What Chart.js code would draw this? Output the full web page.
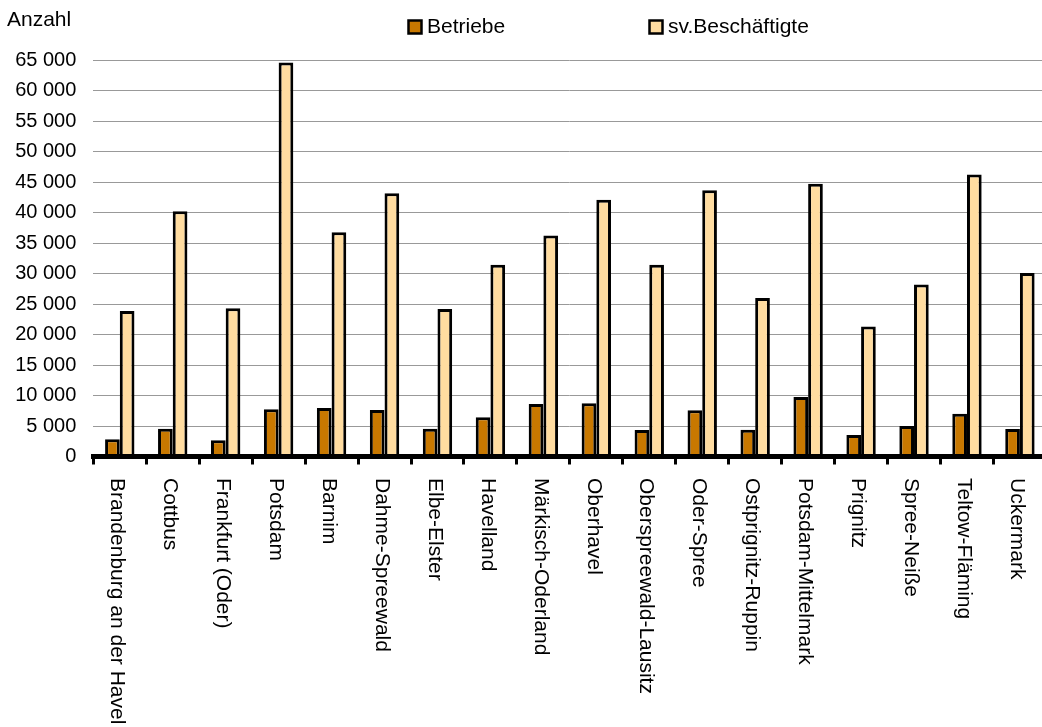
<!DOCTYPE html>
<html lang="de">
<head>
<meta charset="utf-8">
<title>Betriebe und sv.Beschäftigte</title>
<script src="https://cdn.jsdelivr.net/npm/chart.js@4/dist/chart.umd.min.js"></script>
<style>
    html, body { margin: 0; padding: 0; background: #fff; overflow: hidden; }
    canvas { display: block; }
</style>
</head>
<body>
<canvas id="chart" width="1060" height="727"></canvas>
<script>
    "use strict";

    // Data
    const categories = [
        "Brandenburg an der Havel", "Cottbus", "Frankfurt (Oder)", "Potsdam", "Barnim",
        "Dahme-Spreewald", "Elbe-Elster", "Havelland", "Märkisch-Oderland", "Oberhavel",
        "Oberspreewald-Lausitz", "Oder-Spree", "Ostprignitz-Ruppin", "Potsdam-Mittelmark",
        "Prignitz", "Spree-Neiße", "Teltow-Fläming", "Uckermark"
    ];
    const betriebe = [2820, 4560, 2660, 7740, 7950, 7620, 4560, 6430, 8600, 8720, 4340, 7570, 4390, 9750, 3520, 5000, 7020, 4510];
    const beschaeftigte = [23850, 40200, 24300, 64600, 36750, 43150, 24200, 31450, 36250, 42100, 31450, 43650, 26000, 44700, 21300, 28200, 46250, 30100];
    const yMax = 65000;
    const yStep = 5000;
    const yTitle = "Anzahl";

    const FONT = "'Liberation Sans', Arial, sans-serif";

    function formatNumber(v) {
        return String(v).replace(/\B(?=(\d{3})+(?!\d))/g, " ");
    }

    // Rotated category labels, "Anzahl" and the legend
    const extras = {
        id: "extras",
        afterDraw(chart) {
            const ctx = chart.ctx;
            const xScale = chart.scales.x;

            ctx.save();
            ctx.fillStyle = "#000";
            ctx.font = "21px " + FONT;
            ctx.textAlign = "left";
            ctx.textBaseline = "middle";
            categories.forEach((c, i) => {
                const x = xScale.getPixelForValue(i);
                ctx.save();
                ctx.translate(x - 3, 478);
                ctx.rotate(Math.PI / 2);
                ctx.fillText(c, 0, 0);
                ctx.restore();
            });

            ctx.fillText(yTitle, 7, 20);

            const legendPos = [408.5, 649.5];
            chart.data.datasets.forEach((ds, i) => {
                const bx = legendPos[i];
                ctx.fillStyle = ds.backgroundColor;
                ctx.fillRect(bx, 20.5, 13, 13);
                ctx.lineWidth = 2.5;
                ctx.strokeStyle = "#000";
                ctx.strokeRect(bx, 20.5, 13, 13);
                ctx.fillStyle = "#000";
                ctx.fillText(ds.label, bx + 18.5, 27.5);
            });
            ctx.restore();
        }
    };

    new Chart(document.getElementById("chart").getContext("2d"), {
        type: "bar",
        data: {
            labels: categories,
            datasets: [
                { label: "Betriebe", data: betriebe, backgroundColor: "#C87800", borderColor: "#000", borderWidth: 3 },
                { label: "sv.Beschäftigte", data: beschaeftigte, backgroundColor: "#FFDCA0", borderColor: "#000", borderWidth: 3 }
            ]
        },
        options: {
            responsive: false,
            animation: false,
            layout: { padding: { left: 0, right: 13.6, top: 60, bottom: 262.5 } },
            datasets: { bar: { categoryPercentage: 0.555, barPercentage: 1.0 } },
            plugins: {
                legend: { display: false },
                tooltip: { enabled: false }
            },
            scales: {
                x: {
                    afterFit(scale) { scale.height = 8; },
                    ticks: { display: false },
                    grid: {
                        z: 1,
                        display: true,
                        offset: true,
                        drawOnChartArea: false,
                        drawTicks: true,
                        tickLength: 8,
                        tickWidth: 3,
                        tickColor: "#000"
                    },
                    border: { z: 1, display: true, color: "#000", width: 5 }
                },
                y: {
                    min: 0,
                    max: yMax,
                    afterFit(scale) { scale.width = 93.3; },
                    ticks: {
                        stepSize: yStep,
                        padding: 17,
                        color: "#000",
                        font: { family: FONT, size: 20 },
                        callback: (v) => formatNumber(v)
                    },
                    grid: { color: "#999", lineWidth: 1, drawTicks: false },
                    border: { display: false }
                }
            }
        },
        plugins: [extras]
    });
</script>
</body>
</html>
